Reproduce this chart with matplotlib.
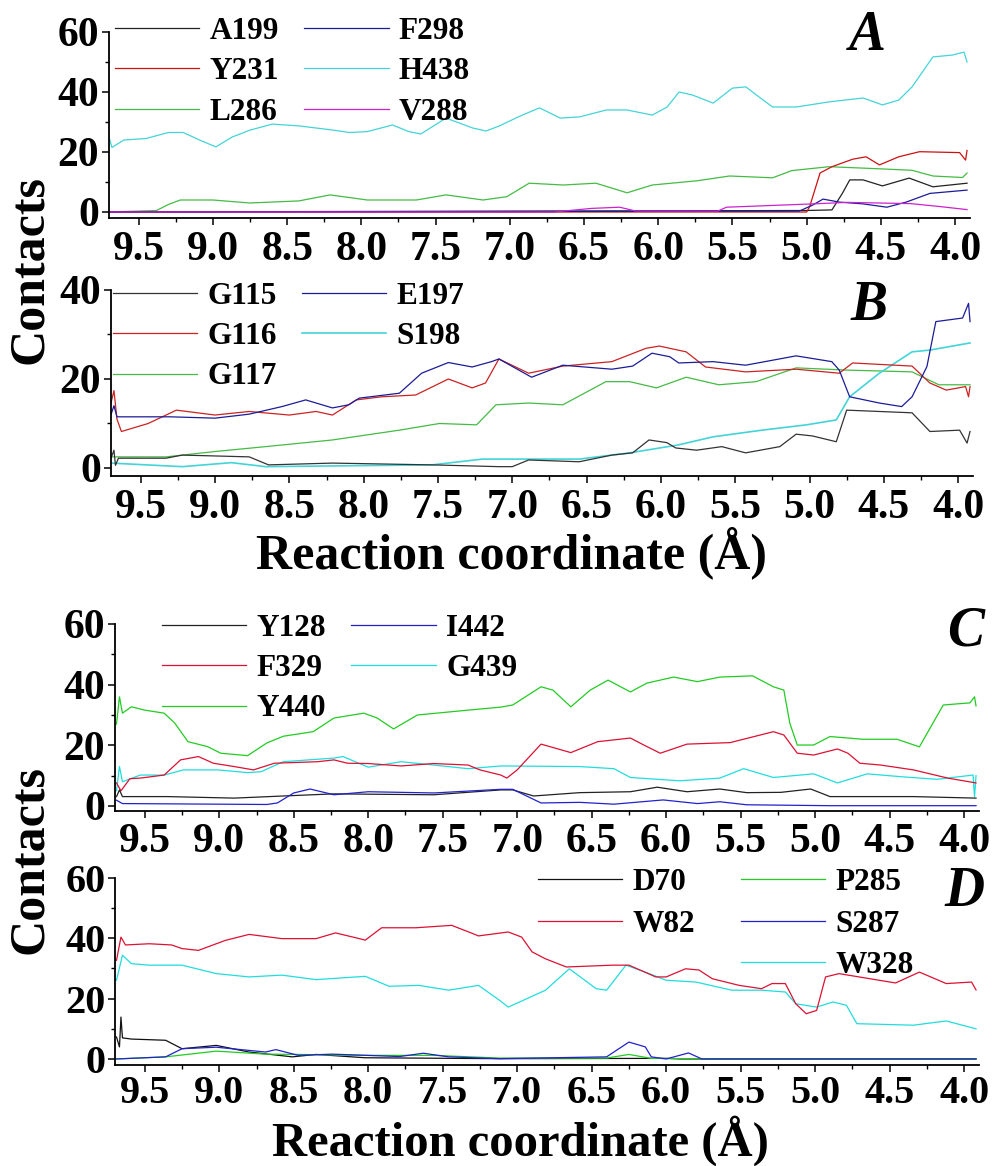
import numpy as np
import matplotlib
matplotlib.use('Agg')
import matplotlib.pyplot as plt
from matplotlib.ticker import MultipleLocator, FormatStrFormatter

plt.rcParams['font.family'] = ['Liberation Serif', 'DejaVu Serif']
plt.rcParams['font.weight'] = 'bold'

# ---- panel A ----
a_h438_x = [9.70, 9.68, 9.60, 9.45, 9.30, 9.20, 9.09, 8.98, 8.87, 8.75, 8.60, 8.42, 8.19, 8.08, 7.96,
            7.79, 7.68, 7.60, 7.43, 7.25, 7.16, 7.07, 6.93, 6.80, 6.66, 6.53, 6.35, 6.21, 6.04, 5.94,
            5.86, 5.77, 5.63, 5.50, 5.41, 5.32, 5.23, 5.07, 4.85, 4.62, 4.49, 4.38, 4.29, 4.15, 4.02,
            3.94, 3.92]
a_h438 = [25, 21.5, 24, 24.5, 26.5, 26.5, 24, 21.7, 25, 27.3, 29.3, 28.7, 27.3, 26.5, 26.8,
          29, 26.8, 26, 31.3, 28, 27, 28.7, 32, 34.7, 31.3, 31.7, 34, 34, 32.3, 35,
          40, 39, 36.3, 41.3, 41.7, 38.3, 35, 35, 36.7, 38, 35.7, 37.3, 41.7, 51.7, 52.3,
          53.3, 50]
a_l286_x = [9.70, 9.38, 9.30, 9.22, 9.00, 8.75, 8.42, 8.21, 7.96, 7.63, 7.43, 7.18, 7.02, 6.87, 6.64,
            6.42, 6.21, 6.04, 5.74, 5.52, 5.23, 5.10, 4.85, 4.51, 4.29, 4.15, 3.95, 3.92]
a_l286 = [0, 0.5, 2.5, 4, 4, 3, 3.7, 5.7, 4, 4, 5.7, 4, 5.1, 9.6, 9,
          9.6, 6.4, 9, 10.4, 12, 11.4, 13.8, 15.1, 14.4, 13.9, 12, 11.5, 13]
a_y231_x = [9.70, 5.00, 4.98, 4.91, 4.83, 4.69, 4.60, 4.51, 4.38, 4.24, 3.97, 3.93, 3.92]
a_y231 = [0, 0, 1.8, 13, 15.1, 17.6, 18.4, 15.7, 18.4, 20.1, 19.8, 17.3, 20.5]
a_a199_x = [9.70, 5.00, 4.83, 4.76, 4.71, 4.62, 4.49, 4.31, 4.15, 3.92]
a_a199 = [0, 0.5, 0.7, 6.2, 10.7, 10.7, 8.7, 11.3, 8.4, 9.6]
a_f298_x = [9.70, 5.05, 4.96, 4.89, 4.78, 4.62, 4.46, 4.33, 4.17, 3.92]
a_f298 = [0, 0.3, 2.3, 4.3, 3.3, 2.7, 1.6, 3.3, 6.2, 7.3]
a_v288_x = [9.70, 6.70, 6.45, 6.26, 6.15, 5.60, 5.54, 4.96, 4.73, 4.30, 4.10, 3.92]
a_v288 = [0, 0, 1.2, 1.6, 0.3, 0.3, 1.6, 2.7, 3.2, 2.8, 1.8, 0.8]

# ---- panel B ----
b_e197_x = [9.70, 9.68, 9.66, 9.60, 9.30, 9.00, 8.77, 8.55, 8.39, 8.21, 8.10, 8.03, 7.76, 7.61, 7.43,
            7.27, 7.14, 7.09, 6.87, 6.66, 6.33, 6.19, 6.06, 5.94, 5.88, 5.65, 5.43, 5.09, 4.85, 4.80,
            4.73, 4.53, 4.38, 4.31, 4.21, 4.15, 3.97, 3.93, 3.92]
b_e197 = [12, 14, 11.5, 11.5, 11.5, 11.2, 12.1, 13.8, 15.3, 13.5, 14.2, 15.7, 16.8, 21.3, 23.7,
          22.7, 23.9, 24.5, 20.4, 23.1, 22.2, 22.9, 25.8, 25, 23.6, 23.9, 23.1, 25.2, 23.9, 22,
          16, 14.6, 13.8, 16, 22.8, 32.9, 33.7, 37, 32.9]
b_g116_x = [9.70, 9.68, 9.66, 9.63, 9.45, 9.26, 9.00, 8.77, 8.50, 8.32, 8.21, 8.05, 7.88, 7.65, 7.43,
            7.27, 7.18, 7.09, 6.89, 6.66, 6.33, 6.10, 6.01, 5.83, 5.70, 5.43, 5.09, 4.80, 4.71, 4.31,
            4.19, 4.08, 3.95, 3.93, 3.92]
b_g116 = [14.6, 17.4, 11, 8.2, 10, 13, 11.9, 12.7, 11.9, 12.7, 11.9, 15.3, 16, 16.4, 20,
          18, 19.1, 24.5, 21.3, 22.9, 23.9, 26.9, 27.4, 26.1, 22.7, 21.6, 22.2, 21.3, 23.6, 22.9,
          19.1, 17.5, 18.3, 16, 18.3]
b_g117_x = [9.70, 9.33, 9.00, 8.66, 8.21, 7.76, 7.49, 7.24, 7.11, 6.89, 6.66, 6.37, 6.21, 6.03, 5.83,
            5.61, 5.36, 5.09, 4.75, 4.31, 4.13, 3.92]
b_g117 = [2.5, 2.5, 3.7, 4.8, 6.3, 8.5, 10, 9.7, 14.2, 14.6, 14.2, 19.4, 19.4, 18, 20.4,
          18.7, 19.4, 22.5, 22, 21.6, 18.7, 18.7]
b_g115_x = [9.70, 9.68, 9.67, 9.65, 9.33, 9.22, 8.77, 8.64, 8.21, 7.54, 7.09, 7.00, 6.89, 6.55, 6.33,
            6.19, 6.08, 5.96, 5.90, 5.76, 5.59, 5.43, 5.20, 5.09, 4.98, 4.82, 4.75, 4.53, 4.31, 4.19,
            3.99, 3.94, 3.92]
b_g115 = [2.2, 4, 0.6, 2.2, 2.2, 2.9, 2.5, 0.7, 1.1, 0.7, 0.3, 0.3, 1.8, 1.4, 2.9,
          3.4, 6.3, 5.7, 4.5, 4, 4.8, 3.4, 4.8, 7.6, 7.2, 5.9, 13, 12.7, 12.4, 8.2,
          8.5, 5.6, 8.2]
b_s198_x = [9.70, 9.22, 8.89, 8.66, 7.54, 7.20, 6.55, 6.21, 5.88, 5.65, 5.32, 5.02, 4.82, 4.73, 4.53,
            4.31, 4.19, 3.92]
b_s198 = [1.1, 0.3, 1.2, 0.3, 0.7, 2, 2, 3.4, 5.2, 7, 8.5, 9.7, 10.8, 16, 21.3,
          26.1, 26.5, 28.1]

# ---- panel C ----
c_y440_x = [9.69, 9.67, 9.65, 9.59, 9.50, 9.37, 9.30, 9.21, 9.08, 8.99, 8.81, 8.68, 8.57, 8.37, 8.23,
            8.03, 7.94, 7.83, 7.67, 7.33, 7.11, 7.03, 6.84, 6.76, 6.64, 6.51, 6.39, 6.24, 6.13, 5.95,
            5.79, 5.64, 5.42, 5.28, 5.21, 5.17, 5.12, 5.01, 4.90, 4.68, 4.45, 4.30, 4.14, 3.96, 3.93,
            3.92]
c_y440 = [27, 36, 30.6, 32.7, 31.6, 30.6, 27.4, 21.2, 19.6, 17.4, 16.6, 20.8, 23, 24.5, 29,
          30.6, 29, 25.4, 30, 31.6, 32.6, 33.3, 39.3, 38.2, 32.7, 38.2, 41.5, 37.6, 40.5, 42.5,
          41, 42.5, 42.9, 39.3, 38.2, 27.3, 20.1, 20.1, 22.9, 22, 22, 19.5, 33.3, 34, 36,
          33]
c_f329_x = [9.69, 9.66, 9.60, 9.53, 9.37, 9.26, 9.14, 9.04, 8.90, 8.77, 8.63, 8.34, 8.23, 8.14, 8.00,
            7.78, 7.56, 7.33, 7.25, 7.11, 7.07, 7.00, 6.84, 6.64, 6.46, 6.24, 6.15, 6.04, 5.86, 5.57,
            5.28, 5.21, 5.12, 5.01, 4.85, 4.78, 4.70, 4.56, 4.34, 4.11, 3.92]
c_f329 = [7.6, 5, 9, 9.2, 10.2, 15.2, 16.3, 14.1, 13, 11.9, 14.1, 14.6, 15.2, 14.1, 14,
          13.2, 14, 13.5, 11.9, 10.2, 9.2, 11.9, 20.4, 17.6, 21.2, 22.4, 20.1, 17.4, 20.4, 20.9,
          24.5, 23.4, 17.4, 16.8, 18.8, 17.4, 14.1, 13.5, 11.9, 9.2, 7.6]
c_g439_x = [9.69, 9.67, 9.65, 9.53, 9.37, 9.24, 9.01, 8.81, 8.72, 8.57, 8.23, 8.17, 8.00, 7.78, 7.56,
            7.33, 7.11, 6.58, 6.35, 6.24, 5.91, 5.64, 5.48, 5.28, 5.01, 4.85, 4.65, 4.41, 4.18, 3.94,
            3.93, 3.92]
c_g439 = [5, 13, 8, 10.2, 10.2, 11.9, 11.9, 11, 11.3, 14.6, 15.8, 16.3, 12.8, 14.6, 13.5,
          12.3, 13.2, 13, 12.3, 9.4, 8.3, 9.2, 12.3, 9.4, 10.6, 7.6, 10.6, 9.6, 8.8, 10.2,
          3, 10]
c_y128_x = [9.69, 9.67, 9.65, 9.35, 8.90, 8.57, 8.23, 7.56, 7.11, 7.03, 6.89, 6.58, 6.24, 6.06, 5.86,
            5.64, 5.46, 5.23, 5.03, 4.90, 4.34, 3.92]
c_y128 = [3.1, 5.3, 3.1, 3.1, 2.6, 3.3, 4.0, 3.7, 5.3, 5.3, 3.3, 4.4, 4.7, 6.2, 4.7,
          5.6, 4.4, 4.5, 5.6, 3.1, 3.1, 2.6]
c_i442_x = [9.69, 9.65, 8.68, 8.61, 8.50, 8.39, 8.23, 8.00, 7.56, 7.11, 7.03, 6.84, 6.58, 6.35, 6.02,
            5.79, 5.64, 5.46, 4.90, 3.92]
c_i442 = [1.9, 0.8, 0.5, 1.0, 4.3, 5.6, 3.7, 4.7, 4.3, 5.5, 5.5, 1.0, 1.2, 0.6, 2.0,
          0.8, 1.4, 0.4, 0.1, 0.1]

# ---- panel D ----
d_w82_x = [9.69, 9.66, 9.63, 9.47, 9.32, 9.25, 9.14, 8.96, 8.80, 8.58, 8.35, 8.22, 8.06, 8.02, 7.91,
           7.68, 7.44, 7.31, 7.26, 7.06, 6.97, 6.90, 6.81, 6.67, 6.36, 6.25, 6.07, 6.00, 5.87, 5.78,
           5.69, 5.51, 5.36, 5.29, 5.20, 5.13, 5.06, 4.99, 4.93, 4.84, 4.46, 4.30, 4.12, 3.95, 3.92]
d_w82 = [32.7, 40.4, 37.8, 38.2, 37.8, 36.6, 36, 39.3, 41.3, 39.9, 39.9, 41.8, 39.9, 39.4, 43.5,
         43.5, 44.3, 41.8, 40.8, 42.1, 40.4, 35.5, 33.2, 30.5, 31.1, 31.1, 27.2, 27.2, 29.9, 29.5,
         26.6, 24.4, 23.3, 25, 25, 18.3, 15, 16.1, 27.2, 28.3, 25.2, 28.8, 25, 25.5, 22.9]
d_w328_x = [9.69, 9.65, 9.59, 9.47, 9.25, 9.02, 8.80, 8.58, 8.35, 8.02, 7.86, 7.66, 7.46, 7.26, 7.12,
            7.06, 6.81, 6.65, 6.47, 6.40, 6.27, 6.14, 6.00, 5.80, 5.56, 5.36, 5.20, 5.13, 4.99, 4.88,
            4.79, 4.72, 4.34, 4.12, 3.92]
d_w328 = [26.1, 34.4, 31.6, 31.1, 31.1, 28.3, 27.2, 27.8, 26.3, 27.4, 24.1, 24.4, 22.8, 24.4, 19.5,
          17.2, 22.8, 29.9, 23.3, 22.8, 31.1, 28.8, 26.1, 25.5, 22.8, 22.8, 22.2, 18.3, 17.2, 18.9,
          17.8, 11.7, 11.2, 12.6, 10]
d_d70_x = [9.69, 9.67, 9.66, 9.65, 9.59, 9.36, 9.25, 9.02, 8.80, 8.51, 8.35, 8.02, 7.12, 6.00, 5.90, 3.92]
d_d70 = [7.3, 4, 13.9, 7, 6.6, 6.2, 3.4, 4.5, 2.3, 0.7, 1.5, 0.4, 0.1, 0.2, 0, 0]
d_s287_x = [9.69, 9.36, 9.25, 9.02, 8.69, 8.62, 8.47, 8.24, 7.79, 7.63, 7.46, 7.12, 6.40, 6.25, 6.14,
            6.10, 6.00, 5.85, 5.76, 3.92]
d_s287 = [0, 0.7, 3.4, 3.9, 2.3, 3.1, 1.2, 1.6, 0.8, 1.9, 0.7, 0.1, 0.7, 5.6, 4,
          0.7, 0, 2, 0, 0]
d_p285_x = [9.69, 9.36, 9.02, 8.69, 8.47, 8.02, 7.56, 7.12, 6.40, 6.25, 6.10, 5.60, 3.92]
d_p285 = [0, 0.7, 2.6, 1.6, 1.5, 1.2, 1.2, 0.3, 0.3, 1.5, 0.2, 0, 0]

W, H = 992, 1166
fig = plt.figure(figsize=(W / 100, H / 100), dpi=100)


def box(left, top, right, bottom):
    return [left / W, 1 - bottom / H, (right - left) / W, (bottom - top) / H]


def style(ax, ymax, ymin, size=30):
    for s in ['top', 'right']:
        ax.spines[s].set_visible(False)
    for s in ['left', 'bottom']:
        ax.spines[s].set_linewidth(1.3)
    ax.set_xlim(9.7, 3.9)
    ax.set_ylim(ymin, ymax)
    ax.xaxis.set_major_locator(MultipleLocator(0.5))
    ax.xaxis.set_minor_locator(MultipleLocator(0.25))
    ax.xaxis.set_major_formatter(FormatStrFormatter('%.1f'))
    ax.yaxis.set_major_locator(MultipleLocator(20))
    ax.yaxis.set_minor_locator(MultipleLocator(10))
    ax.tick_params(which='major', direction='out', length=5, width=1.1, labelsize=size)
    ax.tick_params(which='minor', direction='out', length=3, width=1.0)
    ax.tick_params(axis='x', pad=4)
    ax.tick_params(axis='y', pad=2)
    for lab in ax.get_xticklabels() + ax.get_yticklabels():
        lab.set_fontweight('bold')


def legend(ax, handles, labels, x, y, colsp, lsp=0.36):
    ax.legend(handles, labels, ncol=2, loc='upper left', frameon=False,
              bbox_to_anchor=(x / W, 1 - y / H), bbox_transform=fig.transFigure,
              borderpad=0, borderaxespad=0, handlelength=2.7, handletextpad=0.33,
              columnspacing=colsp, labelspacing=lsp,
              prop={'family': 'Liberation Serif', 'weight': 'bold', 'size': 22.5})


def letter(s, x, y):
    fig.text(x / W, 1 - y / H, s, fontsize=40, style='italic', fontweight='bold',
             family='Liberation Serif', ha='center', va='baseline')


lw = 0.9

# panel A
axA = fig.add_axes(box(109, 32, 970, 218))
hA_h438, = axA.plot(a_h438_x, a_h438, color='#44d4d8', lw=lw)
hA_l286, = axA.plot(a_l286_x, a_l286, color='#44bb44', lw=lw)
hA_a199, = axA.plot(a_a199_x, a_a199, color='#222222', lw=lw)
hA_y231, = axA.plot(a_y231_x, a_y231, color='#cc1111', lw=lw)
hA_f298, = axA.plot(a_f298_x, a_f298, color='#1c1c99', lw=lw)
hA_v288, = axA.plot(a_v288_x, a_v288, color='#cc22cc', lw=lw)
style(axA, 60, -2)
legend(axA, [hA_a199, hA_y231, hA_l286, hA_f298, hA_h438, hA_v288],
       ['A199', 'Y231', 'L286', 'F298', 'H438', 'V288'], 115, 17, 0.8)
letter('A', 867, 50)

# panel B
axB = fig.add_axes(box(111, 290, 973, 476))
hB_g117, = axB.plot(b_g117_x, b_g117, color='#44bb44', lw=lw)
hB_s198, = axB.plot(b_s198_x, b_s198, color='#44d4d8', lw=1.2)
hB_g115, = axB.plot(b_g115_x, b_g115, color='#333333', lw=lw)
hB_g116, = axB.plot(b_g116_x, b_g116, color='#cc2222', lw=lw)
hB_e197, = axB.plot(b_e197_x, b_e197, color='#1c1c99', lw=lw)
style(axB, 40, -1.8)
legend(axB, [hB_g115, hB_g116, hB_g117, hB_e197, hB_s198],
       ['G115', 'G116', 'G117', 'E197', 'S198'], 113, 282, 0.8)
letter('B', 869, 320)

# panel C
axC = fig.add_axes(box(115, 624, 979, 811))
hC_y440, = axC.plot(c_y440_x, c_y440, color='#22cc22', lw=lw)
hC_g439, = axC.plot(c_g439_x, c_g439, color='#22dddd', lw=lw)
hC_f329, = axC.plot(c_f329_x, c_f329, color='#dd1133', lw=lw)
hC_y128, = axC.plot(c_y128_x, c_y128, color='#222222', lw=lw)
hC_i442, = axC.plot(c_i442_x, c_i442, color='#2222cc', lw=lw)
style(axC, 60, -1.65)
legend(axC, [hC_y128, hC_f329, hC_y440, hC_i442, hC_g439],
       ['Y128', 'F329', 'Y440', 'I442', 'G439'], 162, 614, 0.8)
letter('C', 966, 645)

# panel D
axD = fig.add_axes(box(115, 878, 979, 1065))
hD_w328, = axD.plot(d_w328_x, d_w328, color='#22dddd', lw=lw)
hD_w82, = axD.plot(d_w82_x, d_w82, color='#dd1133', lw=lw)
hD_d70, = axD.plot(d_d70_x, d_d70, color='#111111', lw=lw)
hD_p285, = axD.plot(d_p285_x, d_p285, color='#22cc22', lw=lw)
hD_s287, = axD.plot(d_s287_x, d_s287, color='#2222cc', lw=lw)
style(axD, 60, -2, size=29)
axD.tick_params(axis='x', pad=2)
blank = plt.Line2D([], [], color='none')
legend(axD, [hD_d70, hD_w82, blank, hD_p285, hD_s287, hD_w328],
       ['D70', 'W82', ' ', 'P285', 'S287', 'W328'], 538, 868, 1.45, 0.4)
letter('D', 964, 906)

# shared labels
lab = dict(fontsize=36, fontweight='bold', family='Liberation Serif')
fig.text(30 / W, 1 - 270 / H, 'Contacts', rotation=90, ha='center', va='center', **lab)
fig.text(30 / W, 1 - 860 / H, 'Contacts', rotation=90, ha='center', va='center', **lab)
fig.text(512 / W, 1 - 568 / H, 'Reaction coordinate (Å)', ha='center', va='baseline', **lab)
fig.text(520 / W, 1 - 1156 / H, 'Reaction coordinate (Å)', ha='center', va='baseline',
         fontsize=35, fontweight='bold', family='Liberation Serif')

fig.savefig('out.png', dpi=100)
